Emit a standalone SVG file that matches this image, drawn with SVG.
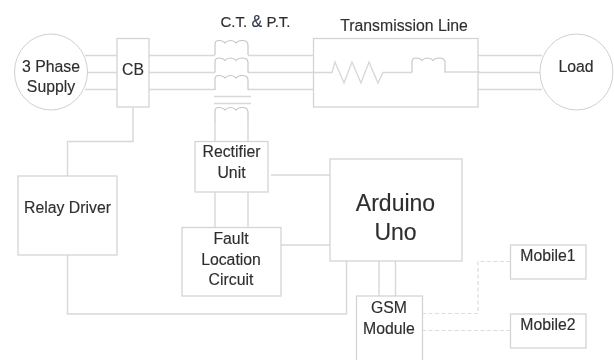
<svg xmlns="http://www.w3.org/2000/svg" width="614" height="360" viewBox="0 0 614 360">
<defs>
<style>
.b{fill:#fff;stroke:#d4d4d4;stroke-width:1.3}
.e{fill:#fff;stroke:#cfcfcf;stroke-width:1}
.c{fill:none;stroke:#d8d8d8;stroke-width:1.4}
.d{fill:none;stroke:#dcdcdc;stroke-width:1.2;stroke-dasharray:4 2.5}
.r{fill:none;stroke:#c4c4c4;stroke-width:1.1}
text{font-family:"Liberation Sans",Arial,sans-serif;font-size:15.8px;fill:#2e2e2e;stroke:#2e2e2e;stroke-width:0.15;text-anchor:middle}
</style>
<filter id="s" x="-5%" y="-5%" width="110%" height="110%"><feGaussianBlur stdDeviation="0.35"/></filter>
<path id="coil" d="M0 15V4Q0 0.500 4 0.500Q8 0.500 10 3Q12 0.500 15.500 0.500Q19 0.500 21 3Q23 0.500 27 0.500Q33 0.500 33 5V15"/>
</defs>
<rect width="614" height="360" fill="#fff"/>
<g filter="url(#s)">
<g id="connectors">
<path class="c" d="M85 55.500H117M87 72.500H117M85 89.500H117"/>
<path class="c" d="M149 55.500H215M149 72.500H215M149 89.500H215"/>
<path class="c" d="M248 55.500H314M248 72.500H314M248 89.500H314"/>
<path class="c" d="M478 55.500H542M478 72.500H540M478 89.500H542"/>
<path class="c" d="M133 107V141.500H67.500V176"/>
<path class="c" d="M67.500 255V314H346.500V261"/>
<path class="c" d="M215 122V141M248 122V141"/>
<path class="c" d="M215 192V227M248 192V227"/>
<path class="c" d="M271 175H330M281 245H330"/>
<path class="c" d="M379 261V296M395.500 261V296"/>
<path class="c" d="M214 96.500H251M214 103.500H251"/>
<path class="d" d="M422 313.500H478V261.500H510M422 330.500H510"/>
<g class="r">
<use href="#coil" x="215" y="40"/>
<use href="#coil" x="215" y="57.500"/>
<use href="#coil" x="215" y="75"/>
<use href="#coil" x="215" y="107"/>
</g>
</g>
<g id="supply"><ellipse class="e" cx="51" cy="72" rx="36.500" ry="38"/><text x="51" y="71.500">3 Phase</text><text x="51" y="92">Supply</text></g>
<g id="cb"><rect class="b" x="117" y="38.500" width="32" height="68.500"/><text x="133" y="75">CB</text></g>
<g id="ctpt"><text x="255.500" y="27"><tspan style="font-size:15px">C.T.</tspan> <tspan style="fill:#2b3550;font-size:16px">&amp;</tspan> <tspan style="font-size:15px">P.T.</tspan></text></g>
<g id="transmission-line"><rect class="b" x="313.500" y="38.500" width="164.500" height="68.500"/>
<text x="404" y="31">Transmission Line</text>
<path class="c" d="M313.500 72.500H332L335 62L344 83L352 62L361 83L369 62L378 83L383 72.500H412"/>
<use class="r" href="#coil" x="412" y="57.500"/>
<path class="c" d="M445 72H480"/></g>
<g id="load"><ellipse class="e" cx="576.500" cy="72" rx="36.500" ry="38"/><text x="576" y="72">Load</text></g>
<g id="rectifier"><rect class="b" x="195" y="141.500" width="73" height="50.500"/><text x="231.500" y="157">Rectifier</text><text x="231.500" y="178">Unit</text></g>
<g id="relay-driver"><rect class="b" x="18" y="176" width="99" height="79"/><text x="67.500" y="212.500">Relay Driver</text></g>
<g id="fault-location"><rect class="b" x="182" y="227.500" width="99" height="68.500"/><text x="231" y="244">Fault</text><text x="231" y="264.500">Location</text><text x="231" y="285">Circuit</text></g>
<g id="arduino"><rect class="b" x="330" y="159" width="132" height="102"/><text x="395.500" y="211" style="font-size:23px">Arduino</text><text x="395.500" y="240" style="font-size:23px">Uno</text></g>
<g id="gsm"><rect class="b" x="356.500" y="296" width="66" height="70"/><text x="389" y="313">GSM</text><text x="389" y="333.500">Module</text></g>
<g id="mobile1"><rect class="b" x="510.500" y="245" width="75.500" height="34"/><text x="548" y="261">Mobile1</text></g>
<g id="mobile2"><rect class="b" x="510.500" y="314" width="75.500" height="34"/><text x="548" y="330">Mobile2</text></g>
</g>
</svg>
